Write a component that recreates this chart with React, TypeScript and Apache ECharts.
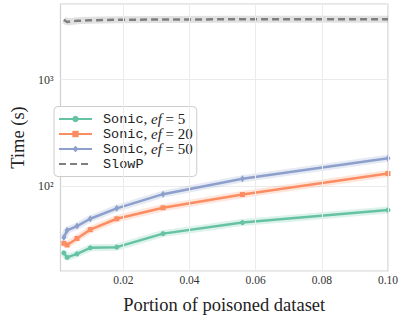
import React, { useEffect, useRef } from "react";
import * as echarts from "echarts";

const portions = [0.002, 0.003, 0.006, 0.01, 0.018, 0.032, 0.056, 0.1];
const sonicEf5 = [23.4, 21.2, 22.9, 26.1, 26.5, 35.5, 45.1, 59.1];
const sonicEf20 = [28.8, 27.8, 32.0, 38.7, 49.0, 62.2, 82.8, 130.6];
const sonicEf50 = [32.7, 38.1, 41.8, 49.0, 61.4, 83.5, 116.7, 181.5];
const slowP = [3656, 3485, 3573, 3612, 3650, 3675, 3690, 3690];
const xTicks = [0.02, 0.04, 0.06, 0.08, 0.1];
const seriesNames = ["Sonic, ef = 5", "Sonic, ef = 20", "Sonic, ef = 50", "SlowP"];

const SERIF = "'Liberation Serif', 'DejaVu Serif', serif";
const MONO = "'Liberation Mono', 'DejaVu Sans Mono', monospace";

export default function App() {
  const ref = useRef<HTMLDivElement>(null);
  useEffect(() => {
    if (!ref.current) return;
    const chart = echarts.init(ref.current, undefined, { renderer: "svg" });
    const pairs = (ys: number[]) => portions.map((x, i) => [x, ys[i]]);
    const colors = ["#66c2a5", "#fc8d62", "#8da0cb"];
    const sonicData = [sonicEf5, sonicEf20, sonicEf50];
    const symbols = ["circle", "rect", "diamond"];
    const symSizes: any[] = [5, 5, [5, 7]];
    const series: any[] = [];
    // vertical grid lines
    series.push({
      type: "line",
      data: [],
      silent: true,
      z: 0,
      markLine: {
        silent: true,
        symbol: "none",
        label: { show: false },
        lineStyle: { color: "#ebebeb", width: 1, type: "solid" },
        data: xTicks.map((v) => ({ xAxis: v })),
      },
    });
    sonicData.forEach((d, i) => {
      series.push({
        type: "line",
        data: pairs(d),
        silent: true,
        showSymbol: false,
        z: 1,
        lineStyle: { color: colors[i], width: 7, opacity: 0.22 },
      });
    });
    series.push({
      type: "line",
      data: pairs(slowP),
      silent: true,
      showSymbol: false,
      z: 1,
      lineStyle: { color: "#9a9a9a", width: 7, opacity: 0.3 },
    });
    sonicData.forEach((d, i) => {
      series.push({
        name: seriesNames[i],
        type: "line",
        data: pairs(d),
        symbol: symbols[i],
        symbolSize: symSizes[i],
        z: 3,
        itemStyle: { color: colors[i] },
        lineStyle: { color: colors[i], width: 2.5 },
      });
    });
    series.push({
      name: seriesNames[3],
      type: "line",
      data: pairs(slowP),
      showSymbol: false,
      symbol: "none",
      z: 3,
      itemStyle: { color: "#7f7f7f" },
      lineStyle: { color: "#7f7f7f", width: 2.5, type: [7, 4] },
    });

    chart.setOption({
      animation: false,
      grid: {
        left: 46,
        right: 14,
        top: 4,
        bottom: 39.5,
        show: true,
        borderColor: "#d0d0d0",
        borderWidth: 1.2,
        containLabel: false,
      },
      legend: {
        data: [
          seriesNames[0],
          seriesNames[1],
          seriesNames[2],
          { name: seriesNames[3], itemStyle: { opacity: 0 } },
        ],
        orient: "vertical",
        left: 54,
        top: 106.5,
        padding: [5, 4, 5, 4],
        itemWidth: 33,
        itemHeight: 8,
        itemGap: 0,
        backgroundColor: "rgba(255,255,255,0.85)",
        borderColor: "#cccccc",
        borderWidth: 1,
        borderRadius: 4,
        formatter: (name: string) => {
          if (name === "SlowP") return "{m|SlowP}";
          const n = name.split("= ")[1];
          return `{m|Sonic}{s|, }{i|ef}{s| = ${n}}`;
        },
        textStyle: {
          color: "#222",
          padding: [0, 0, 0, 6],
          lineHeight: 15,
          rich: {
            m: { fontFamily: MONO, fontSize: 13.5, color: "#222", lineHeight: 15 },
            s: { fontFamily: SERIF, fontSize: 15, color: "#222", lineHeight: 15 },
            i: { fontFamily: SERIF, fontSize: 15, fontStyle: "italic", color: "#222", lineHeight: 15 },
          },
        },
      },
      xAxis: {
        type: "value",
        min: 0.001,
        max: 0.1,
        name: "Portion of poisoned dataset",
        nameLocation: "middle",
        nameGap: 24,
        nameTextStyle: { fontFamily: SERIF, fontSize: 18.5, color: "#222" },
        axisLine: { show: false },
        axisTick: { show: false },
        splitLine: { show: false },
        axisLabel: {
          customValues: xTicks,
          formatter: (v: number) => v.toFixed(2),
          fontFamily: SERIF,
          fontSize: 11.5,
          color: "#333",
          margin: 3,
        },
      },
      yAxis: {
        type: "log",
        logBase: 10,
        min: 15.8,
        max: 5140,
        name: "Time (s)",
        nameLocation: "middle",
        nameGap: 27,
        nameTextStyle: { fontFamily: SERIF, fontSize: 18.5, color: "#222" },
        axisLine: { show: false },
        axisTick: { show: false },
        splitLine: { show: true, lineStyle: { color: "#ebebeb", width: 1 } },
        axisLabel: {
          showMinLabel: false,
          showMaxLabel: false,
          formatter: (v: number) => {
            const e = Math.log10(v);
            if (Math.abs(e - Math.round(e)) > 1e-6) return "";
            const sup = ["⁰", "¹", "²", "³", "⁴", "⁵"][Math.round(e)];
            return "10" + sup;
          },
          fontFamily: SERIF,
          fontSize: 12,
          color: "#333",
          margin: 7,
        },
      },
      series,
    });
    return () => chart.dispose();
  }, []);
  return (
    <div
      ref={ref}
      style={{ position: "absolute", left: 0, top: 0, width: 402, height: 319 }}
    />
  );
}
